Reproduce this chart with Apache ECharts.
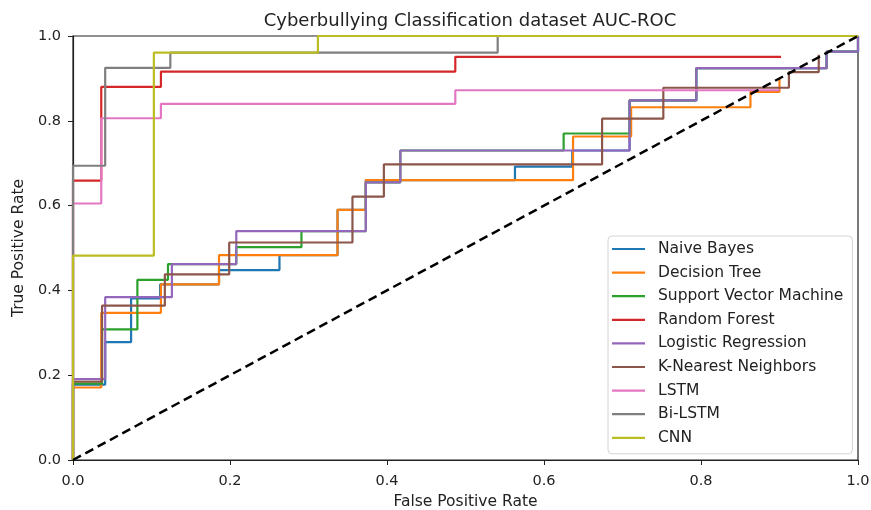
<!DOCTYPE html>
<html>
<head>
<meta charset="utf-8">
<title>AUC-ROC</title>
<script src="https://cdn.jsdelivr.net/npm/echarts@6/dist/echarts.min.js"></script>
<style>
  html, body { margin: 0; padding: 0; background: #fff; }
  #chart { width: 871px; height: 510px; }
</style>
</head>
<body>
<div id="chart"></div>
<script>
// ROC points (fpr, tpr), step is drawn by echarts
var names = ["Naive Bayes", "Decision Tree", "Support Vector Machine", "Random Forest",
  "Logistic Regression", "K-Nearest Neighbors", "LSTM", "Bi-LSTM", "CNN"];
var colors = ["#1f77b4", "#ff7f0e", "#2ca02c", "#d62728", "#9467bd", "#8c564b", "#e377c2", "#7f7f7f", "#bcbd22"];

var nbFpr = [0, 0, 0.041, 0.074, 0.111, 0.186, 0.263, 0.337, 0.373, 0.563, 0.636, 0.709, 0.794, 0.960, 1.0];
var nbTpr = [0, 0.178, 0.278, 0.381, 0.414, 0.448, 0.483, 0.590, 0.660, 0.692, 0.730, 0.848, 0.924, 0.963, 1.0];

var dtFpr = [0, 0, 0.036, 0.112, 0.186, 0.337, 0.373, 0.637, 0.711, 0.863, 0.900];
var dtTpr = [0, 0.171, 0.347, 0.414, 0.483, 0.590, 0.660, 0.763, 0.832, 0.868, 0.900];

var svmFpr = [0, 0, 0.037, 0.082, 0.121, 0.208, 0.291, 0.373, 0.417, 0.625, 0.709, 0.794, 0.960, 1.0];
var svmTpr = [0, 0.180, 0.308, 0.425, 0.462, 0.502, 0.540, 0.655, 0.730, 0.770, 0.848, 0.924, 0.963, 1.0];

var rfFpr = [0, 0, 0.036, 0.112, 0.487, 0.902];
var rfTpr = [0, 0.659, 0.880, 0.916, 0.951, 0.951];

var lrFpr = [0, 0, 0.041, 0.126, 0.208, 0.373, 0.417, 0.709, 0.794, 0.960, 1.0];
var lrTpr = [0, 0.191, 0.384, 0.462, 0.540, 0.655, 0.730, 0.848, 0.924, 0.963, 1.0];

var knnFpr = [0, 0, 0.037, 0.117, 0.199, 0.356, 0.396, 0.674, 0.752, 0.912, 0.950];
var knnTpr = [0, 0.185, 0.364, 0.438, 0.513, 0.621, 0.697, 0.805, 0.878, 0.915, 0.956];

var lstmFpr = [0, 0, 0.036, 0.112, 0.487, 0.900];
var lstmTpr = [0, 0.605, 0.806, 0.840, 0.872, 0.872];

var bilstmFpr = [0, 0, 0.041, 0.124, 0.541, 1.0];
var bilstmTpr = [0, 0.694, 0.925, 0.961, 1.0, 1.0];

var cnnFpr = [0, 0, 0.103, 0.312, 1.0];
var cnnTpr = [0, 0.482, 0.961, 1.0, 1.0];

var allFpr = [nbFpr, dtFpr, svmFpr, rfFpr, lrFpr, knnFpr, lstmFpr, bilstmFpr, cnnFpr];
var allTpr = [nbTpr, dtTpr, svmTpr, rfTpr, lrTpr, knnTpr, lstmTpr, bilstmTpr, cnnTpr];

var chanceX = [0, 1];
var chanceY = [0, 1];

var fontName = "DejaVu Sans";

function pairs(xs, ys) {
  var out = [];
  for (var i = 0; i < xs.length; i++) {
    out.push([xs[i], ys[i]]);
  }
  return out;
}

var series = [];
for (var i = 0; i < names.length; i++) {
  series.push({
    name: names[i],
    type: "line",
    step: "end",
    symbol: "none",
    clip: false,
    silent: true,
    data: pairs(allFpr[i], allTpr[i]),
    lineStyle: { color: colors[i], width: 2.2 },
    itemStyle: { color: colors[i] }
  });
}
// random guess line
series.push({
  name: "chance",
  type: "line",
  symbol: "none",
  clip: false,
  silent: true,
  data: pairs(chanceX, chanceY),
  lineStyle: { color: "#000", width: 2.5, type: [9, 5] }
});

var chart = echarts.init(document.getElementById("chart"), null, { renderer: "canvas" });
var option = {
  animation: false,
  backgroundColor: "#ffffff",
  textStyle: { fontFamily: fontName },
  title: {
    text: "Cyberbullying Classification dataset AUC-ROC",
    left: 465,
    top: 7,
    textAlign: "center",
    textStyle: { fontFamily: fontName, fontSize: 18, fontWeight: "normal", color: "#222" }
  },
  grid: {
    left: 73, right: 13, top: 36, bottom: 50,
    containLabel: false,
    outerBoundsMode: "none",
    show: true, borderColor: "#222", borderWidth: 1.2
  },
  legend: {
    data: names,
    orient: "vertical",
    left: 608,
    top: 236,
    icon: "path://M0,0 L33,0 L33,2.2 L0,2.2 Z",
    itemWidth: 33,
    itemHeight: 14,
    itemGap: 7.6,
    padding: [5, 9, 8, 4],
    borderColor: "#d4d4d4",
    borderWidth: 1,
    borderRadius: 4,
    backgroundColor: "rgba(255,255,255,0.8)",
    textStyle: { fontFamily: fontName, fontSize: 15.5, color: "#222", padding: [0, 0, 0, 8] }
  },
  xAxis: {
    type: "value",
    min: 0, max: 1, interval: 0.2,
    name: "False Positive Rate",
    nameLocation: "middle",
    nameGap: 30,
    nameTextStyle: { fontFamily: fontName, fontSize: 15.5, color: "#222" },
    axisLine: { show: true, lineStyle: { color: "#222", width: 1.2 } },
    axisTick: { show: true, length: 5, lineStyle: { color: "#222" } },
    axisLabel: { margin: 14, fontSize: 14.5, color: "#222", formatter: function (v) { return v.toFixed(1); } },
    splitLine: { show: false }
  },
  yAxis: {
    type: "value",
    min: 0, max: 1, interval: 0.2,
    name: "True Positive Rate",
    nameLocation: "middle",
    nameGap: 45,
    nameTextStyle: { fontFamily: fontName, fontSize: 15.5, color: "#222" },
    axisLine: { show: true, lineStyle: { color: "#222", width: 1.2 } },
    axisTick: { show: true, length: 5, lineStyle: { color: "#222" } },
    axisLabel: { margin: 12, fontSize: 14.5, color: "#222", formatter: function (v) { return v.toFixed(1); } },
    splitLine: { show: false }
  },
  series: series
};
chart.setOption(option);
</script>
</body>
</html>
